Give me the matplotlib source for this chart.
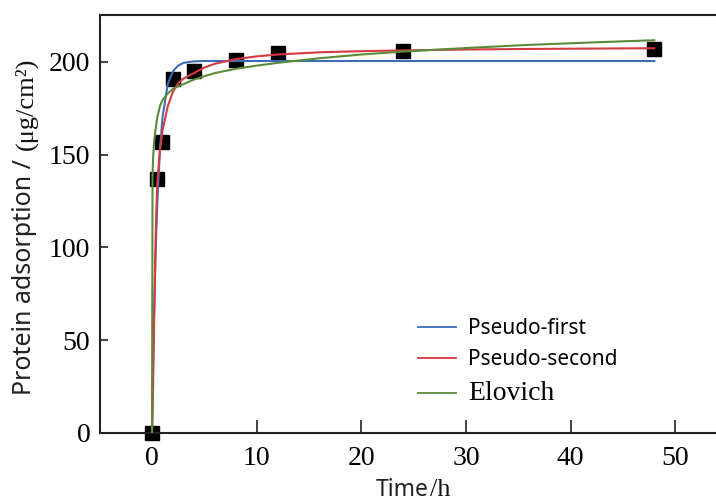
import matplotlib.pyplot as plt

# measured adsorption
time_h = [0, 0.5, 1, 2, 4, 8, 12, 24, 48]
adsorption = [0, 137, 157, 191, 195, 201, 205, 206, 207]

# fitted curves
fit_time = [0, 0.05, 0.1, 0.2, 0.3, 0.4, 0.5, 0.75, 1, 1.5, 2, 2.5, 3, 4, 5,
            6, 8, 10, 12, 16, 20, 24, 30, 36, 42, 48]
pseudo_first = [0, 18, 35, 63, 87, 107, 123, 152, 170, 188, 195, 198, 199.5,
                200.3, 200.5, 200.5, 200.5, 200.5, 200.5, 200.5, 200.5, 200.5,
                200.5, 200.5, 200.5, 200.5]
pseudo_second = [0, 10, 25, 60, 92, 118, 134, 152, 163, 176, 184, 188.5, 191,
                 194, 197, 199, 201.5, 203, 204, 205.2, 205.8, 206.2, 206.7,
                 207, 207.2, 207.4]
elovich = [0, 138, 148, 157, 162, 166, 170, 176, 179.5, 183, 185.5, 187, 188,
           190.5, 192.3, 194, 196.3, 198, 199.5, 202, 204, 205.6, 207.5,
           209.2, 210.5, 211.7]

x_ticks = [0, 10, 20, 30, 40, 50]
y_ticks = [0, 50, 100, 150, 200]

W, H = 716, 504
fig = plt.figure(figsize=(W / 100, H / 100), dpi=100)
ax = fig.add_axes([100 / W, 71 / H, 638 / W, 418 / H])

ax.plot(time_h, adsorption, 's', color='black', markersize=9.5,
        clip_on=False, zorder=2)
ax.plot(fit_time, pseudo_first, color='#3d6cb4', lw=1.5, label='Pseudo-first', zorder=3)
ax.plot(fit_time, pseudo_second, color='#d63a42', lw=1.5, label='Pseudo-second', zorder=3)
ax.plot(fit_time, elovich, color='#5b8b38', lw=1.5, label='Elovich', zorder=3)

ax.set_xlim(-4.97, 56.0)
ax.set_ylim(0, 225.3)
ax.set_xticks(x_ticks)
ax.set_yticks(y_ticks)

ax.spines['right'].set_visible(False)
for s in ['left', 'bottom', 'top']:
    ax.spines[s].set_linewidth(1.5)
    ax.spines[s].set_color('#222222')
ax.tick_params(axis='x', direction='in', length=9.5, width=1.2, pad=9.5,
               labelsize=20, colors='#222222', labelcolor='black')
ax.tick_params(axis='y', direction='in', length=5.5, width=1.2, pad=7,
               labelsize=20, colors='#222222', labelcolor='black')
for lab in ax.get_xticklabels() + ax.get_yticklabels():
    lab.set_fontfamily('Liberation Serif')

# axis titles: sans part + serif unit part, as in the original figure
fig.text(25 / W, 1 - 395 / H, 'Protein adsorption /', rotation=90,
         ha='center', va='bottom', fontsize=18, fontfamily='Noto Sans',
         color='#222222')
fig.text(26 / W, 1 - 150 / H, '(μg/cm²)', rotation=90, ha='center',
         va='bottom', fontsize=19, fontfamily='Liberation Serif', color='#111111')
fig.text(429 / W, 1 - 496 / H, 'Time', ha='right', va='baseline',
         fontsize=16.5, fontfamily='Noto Sans', color='#222222')
fig.text(430 / W, 1 - 496 / H, '/h', ha='left', va='baseline',
         fontsize=19, fontfamily='Liberation Serif', color='#111111')

leg = ax.legend(loc='upper left', bbox_to_anchor=(418 / W, 1 - 318 / H),
                bbox_transform=fig.transFigure, frameon=False, borderpad=0,
                borderaxespad=0, handlelength=1.8, handletextpad=0.6,
                labelspacing=0.5, prop={'family': 'Noto Sans', 'size': 15})
for line in leg.get_lines():
    line.set_linewidth(1.3)
leg.get_texts()[2].set_fontfamily('Liberation Serif')
leg.get_texts()[2].set_fontsize(20)

fig.savefig('out.png', dpi=100)
